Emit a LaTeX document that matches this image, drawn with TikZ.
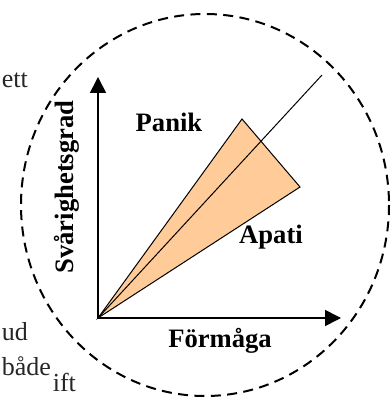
\documentclass[tikz,border=0pt]{standalone}
\usepackage{fontspec}
\setmainfont{Liberation Serif}
\usetikzlibrary{arrows.meta}
\definecolor{wedgeorange}{HTML}{FFCC99}
\tikzset{
  axislabel/.style={font=\fontsize{13.3}{16}\selectfont\bfseries},
  bgtext/.style={font=\fontsize{13}{16}\selectfont, text=black!85, inner sep=0pt},
  zone/.style={dashed, line width=1pt, dash pattern=on 5pt off 3.2pt},
}
\begin{document}
\begin{tikzpicture}[x=0.5pt, y=-0.5pt, >={Triangle[length=8pt,width=8pt]}, thick]
\useasboundingbox (0,0) rectangle (390,399);
% fragments of the surrounding text
\node[bgtext, anchor=base west] (t1) at (1,88) {ett};
\node[bgtext, anchor=base west] (t2) at (1,340) {ud};
\node[bgtext, anchor=base west] (t3) at (1,375) {både};
\node[bgtext, anchor=base west] (t4) at (52,391) {ift};
% dashed zone
\draw[zone] (205,205) ellipse [x radius=184, y radius=191];
% axes
\coordinate (o) at (98,318);
\coordinate (ytip) at (98,77);
\coordinate (xtip) at (341,318);
\draw[->] (o) -- (ytip);
\draw[->] (o) -- (xtip);
% wedge
\coordinate (w1) at (242,119);
\coordinate (w2) at (300,187);
\coordinate (mid) at (322,75);
\draw[fill=wedgeorange, line width=0.5pt, line join=miter] (o) -- (w1) -- (w2) -- cycle;
\draw[line width=0.5pt] (o) -- (mid);
% labels
\node[axislabel] (panik) at (169,122) {Panik};
\node[axislabel] (apati) at (271,237) {Apati};
\node[axislabel] (formaga) at (220,341) {Förmåga};
\node[axislabel, rotate=90] (svar) at (67,187) {Svårighetsgrad};
\end{tikzpicture}
\end{document}
